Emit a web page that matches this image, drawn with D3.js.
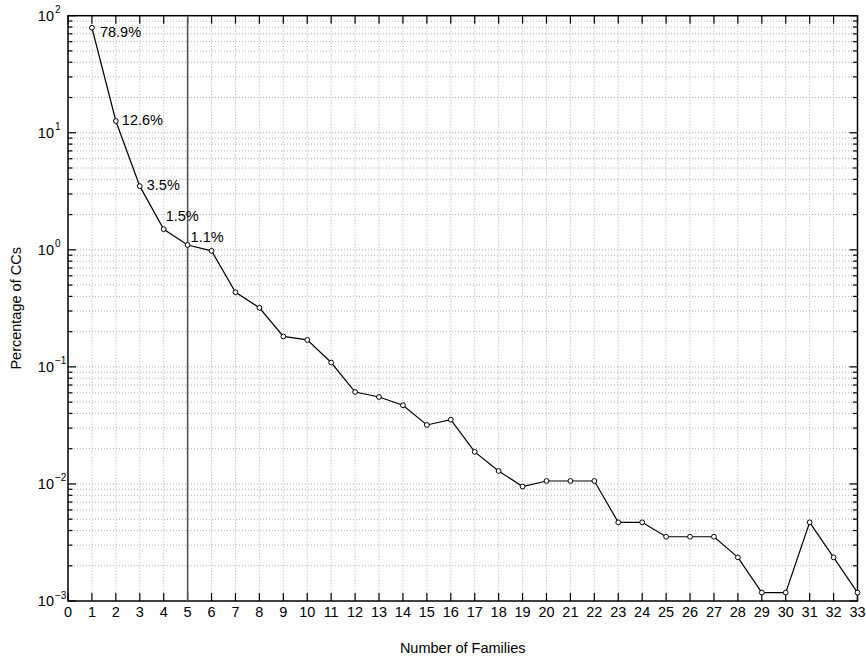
<!DOCTYPE html>
<html>
<head>
<meta charset="utf-8">
<script src="https://cdn.jsdelivr.net/npm/d3@7"></script>
<style>
  body { margin: 0; background: #fff; }
  svg text { font-family: "Liberation Sans", Arial, Helvetica, sans-serif; fill: #000; }
</style>
</head>
<body>
<svg id="chart"></svg>
<script>
// Number of families per connected component vs percentage of CCs
const families = d3.range(1, 34);
const percentages = [78.9, 12.6, 3.5, 1.5, 1.1, 0.98, 0.434, 0.32, 0.182, 0.17,
  0.109, 0.061, 0.0553, 0.047, 0.0319, 0.0354, 0.0188, 0.0129, 0.0095, 0.0106,
  0.0106, 0.0106, 0.0047, 0.0047, 0.00354, 0.00354, 0.00354, 0.00236, 0.00118, 0.00118,
  0.0047, 0.00236, 0.00118];
const annotated = [
  {x: 1, text: "78.9%"},
  {x: 2, text: "12.6%"},
  {x: 3, text: "3.5%"},
  {x: 4, text: "1.5%"},
  {x: 5, text: "1.1%"}
];
// label nudges relative to the marker (pixels)
const labelOffsets = [[8, 9], [6, 4], [7, 4], [2, -8], [3, -3]];
const xTicks = d3.range(0, 34);
const yExponents = [2, 1, 0, -1, -2, -3];
const cutoff = 5;

const width = 866, height = 656;
const margin = {top: 15.7, right: 8.5, bottom: 55, left: 68};
const innerW = width - margin.left - margin.right;
const innerH = height - margin.top - margin.bottom;

const svg = d3.select('#chart')
  .attr('width', width)
  .attr('height', height);

const chart = svg.append('g')
  .attr('transform', `translate(${margin.left},${margin.top})`);

const xScale = d3.scaleLinear().domain([0, 33]).range([0, innerW]);
const yScale = d3.scaleLog().domain([1e-3, 1e2]).range([innerH, 0]);

// minor values 1..9 x 10^k
let minor = [];
for (let k = -3; k <= 1; k++) {
  for (let m = 1; m <= 9; m++) minor.push(m * Math.pow(10, k));
}
minor.push(100);

// Grid
chart.append('g')
  .selectAll('line')
  .data(minor.filter(v => v > 1e-3 && v < 100))
  .join('line')
  .attr('x1', 0).attr('x2', innerW)
  .attr('y1', d => yScale(d)).attr('y2', d => yScale(d))
  .attr('stroke', '#b0b0b0')
  .attr('stroke-width', 1)
  .attr('stroke-dasharray', '1,2');

chart.append('g')
  .selectAll('line')
  .data(xTicks.filter(v => v > 0 && v < 33))
  .join('line')
  .attr('x1', d => xScale(d)).attr('x2', d => xScale(d))
  .attr('y1', 0).attr('y2', innerH)
  .attr('stroke', '#b0b0b0')
  .attr('stroke-width', 1)
  .attr('stroke-dasharray', '1,2');

// Ticks (inside, mirrored on all sides)
const tickG = chart.append('g').attr('stroke', '#000').attr('stroke-width', 1.2);
xTicks.forEach(t => {
  tickG.append('line').attr('x1', xScale(t)).attr('x2', xScale(t)).attr('y1', innerH).attr('y2', innerH - 8);
  tickG.append('line').attr('x1', xScale(t)).attr('x2', xScale(t)).attr('y1', 0).attr('y2', 8);
});
minor.forEach(v => {
  const major = Math.abs(Math.log10(v) - Math.round(Math.log10(v))) < 1e-9;
  const len = major ? 8 : 4.5;
  tickG.append('line').attr('x1', 0).attr('x2', len).attr('y1', yScale(v)).attr('y2', yScale(v));
  tickG.append('line').attr('x1', innerW).attr('x2', innerW - len).attr('y1', yScale(v)).attr('y2', yScale(v));
});

// Frame
chart.append('rect')
  .attr('x', 0).attr('y', 0)
  .attr('width', innerW).attr('height', innerH)
  .attr('fill', 'none')
  .attr('stroke', '#000')
  .attr('stroke-width', 1.5);

// Cutoff line
chart.append('line')
  .attr('x1', xScale(cutoff)).attr('x2', xScale(cutoff))
  .attr('y1', 0).attr('y2', innerH)
  .attr('stroke', '#555')
  .attr('stroke-width', 1.6);

// X tick labels
chart.append('g')
  .selectAll('text')
  .data(xTicks)
  .join('text')
  .attr('x', d => xScale(d))
  .attr('y', innerH + 16.5)
  .attr('text-anchor', 'middle')
  .style('font-size', '14.5px')
  .text(d => d);

// Y tick labels: 10^k
const yLab = chart.append('g')
  .selectAll('g')
  .data(yExponents)
  .join('g')
  .attr('transform', d => `translate(-14,${yScale(Math.pow(10, d))})`);
yLab.append('text')
  .attr('x', 0).attr('y', 5)
  .attr('text-anchor', 'end')
  .style('font-size', '14.5px')
  .text('10');
yLab.append('text')
  .attr('x', 1).attr('y', -2.5)
  .style('font-size', '10px')
  .text(d => d < 0 ? '\u2212' + Math.abs(d) : d);

// Line + markers
const points = families.map((f, i) => ({x: f, y: percentages[i]}));
const line = d3.line()
  .x(d => xScale(d.x))
  .y(d => yScale(d.y));

chart.append('path')
  .datum(points)
  .attr('d', line)
  .attr('fill', 'none')
  .attr('stroke', '#000')
  .attr('stroke-width', 1.2);

chart.append('g')
  .selectAll('circle')
  .data(points)
  .join('circle')
  .attr('cx', d => xScale(d.x))
  .attr('cy', d => yScale(d.y))
  .attr('r', 2.4)
  .attr('fill', '#fff')
  .attr('stroke', '#000')
  .attr('stroke-width', 1);

// Percent annotations
chart.append('g')
  .selectAll('text')
  .data(annotated)
  .join('text')
  .attr('x', (d, i) => xScale(d.x) + labelOffsets[i][0])
  .attr('y', (d, i) => yScale(percentages[d.x - 1]) + labelOffsets[i][1])
  .style('font-size', '14.5px')
  .text(d => d.text);

// Axis titles
svg.append('text')
  .attr('x', margin.left + innerW / 2)
  .attr('y', 653)
  .attr('text-anchor', 'middle')
  .style('font-size', '14.5px')
  .text('Number of Families');

svg.append('text')
  .attr('transform', `translate(20.5,${margin.top + innerH / 2}) rotate(-90)`)
  .attr('text-anchor', 'middle')
  .style('font-size', '14.5px')
  .text('Percentage of CCs');
</script>
</body>
</html>
